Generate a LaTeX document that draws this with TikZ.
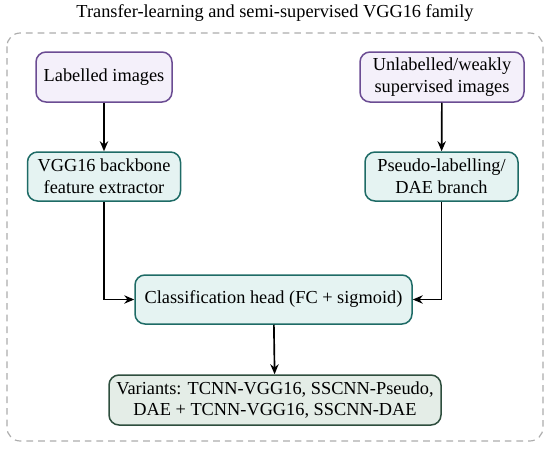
\documentclass[tikz,border=0pt]{standalone}
\usepackage{fontspec}
\setmainfont{Liberation Serif}
\usetikzlibrary{arrows.meta}
\definecolor{topfill}{HTML}{F4F0FA}
\definecolor{topdraw}{HTML}{6B4C93}
\definecolor{midfill}{HTML}{E5F3F2}
\definecolor{middraw}{HTML}{1E6B66}
\definecolor{botfill}{HTML}{E4EDE7}
\definecolor{botdraw}{HTML}{2E4E3E}
\tikzset{
  box/.style={rounded corners=6pt, line width=0.9pt, align=center, inner sep=0pt, font=\fontsize{11}{13}\selectfont},
  inbox/.style={box, fill=topfill, draw=topdraw},
  procbox/.style={box, fill=midfill, draw=middraw},
  outbox/.style={box, fill=botfill, draw=botdraw},
  arr/.style={-{Stealth[length=6pt,width=5pt]}, line width=1pt, black},
}
\begin{document}
\begin{tikzpicture}[x=0.6pt, y=-0.6pt]
\useasboundingbox (0,0) rectangle (550,452);
\node[font=\fontsize{11}{13}\selectfont] (title) at (275,13) {Transfer-learning and semi-supervised VGG16 family};
\draw[gray!65, dashed, dash pattern=on 4pt off 3pt, line width=0.7pt, rounded corners=8pt] (7,33) rectangle (543,441);
\node[inbox, minimum width=136*0.6pt, minimum height=50*0.6pt] (lab) at (104,77) {Labelled images};
\node[inbox, minimum width=164*0.6pt, minimum height=50*0.6pt] (unl) at (442,77) {Unlabelled/weakly\\supervised images};
\node[procbox, minimum width=153*0.6pt, minimum height=49*0.6pt] (vgg) at (104,176.5) {VGG16 backbone\\feature extractor};
\node[procbox, minimum width=153*0.6pt, minimum height=49*0.6pt] (pse) at (441.5,176.5) {Pseudo-labelling/\\DAE branch};
\node[procbox, minimum width=277*0.6pt, minimum height=49*0.6pt] (cls) at (273.5,299.5) {Classification head (FC + sigmoid)};
\node[outbox, minimum width=332*0.6pt, minimum height=50*0.6pt] (var) at (275,400) {Variants: TCNN-VGG16, SSCNN-Pseudo,\\DAE + TCNN-VGG16, SSCNN-DAE};
\draw[arr] (lab) -- (vgg);
\draw[arr] (unl) -- (pse);
\draw[arr] (vgg.south) |- (cls.west);
\draw[arr] (pse.south) |- (cls.east);
\draw[arr] (cls) -- (var);
\end{tikzpicture}
\end{document}
